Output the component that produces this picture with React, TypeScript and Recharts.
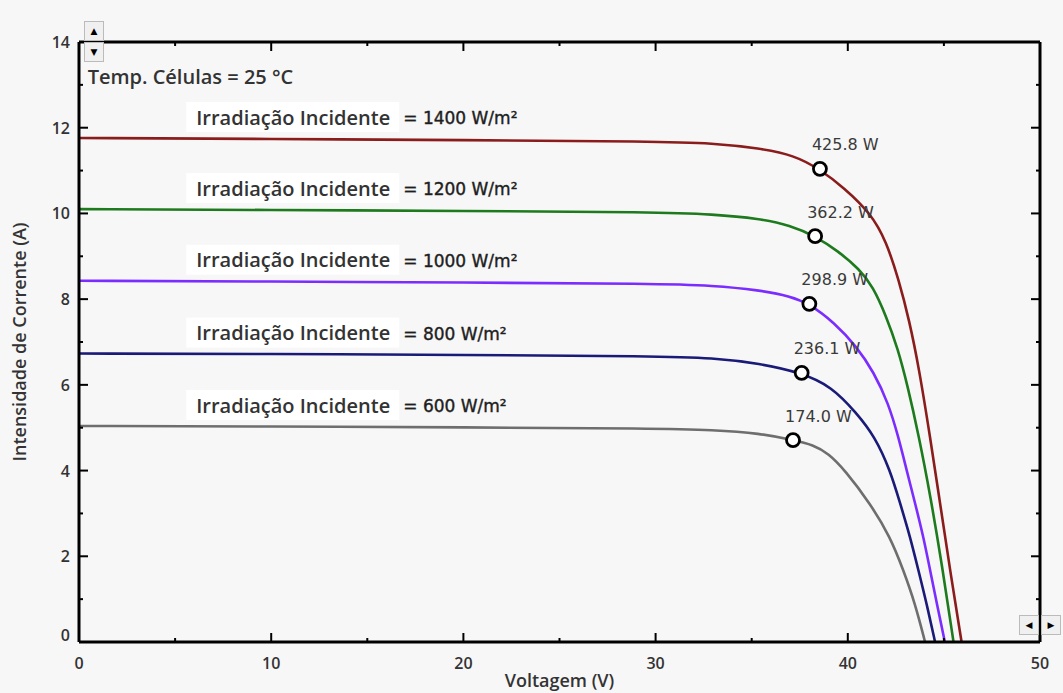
import { ComposedChart, Line, Scatter, XAxis, YAxis, Label } from 'recharts';

// I-V curves (voltage in V, current in A)
const v1400 = [0, 10, 20, 30, 33, 35.4, 37.2, 38.55, 39.8, 41.2, 42.0, 42.65, 43.2, 43.7, 44.28, 44.8, 45.32, 45.92];
const i1400 = [11.76, 11.74, 11.71, 11.68, 11.64, 11.52, 11.36, 11.03, 10.6, 10.0, 9.35, 8.45, 7.5, 6.4, 4.79, 3.24, 1.68, 0];

const v1200 = [0, 10, 20, 30, 33, 35.4, 37, 38.3, 39.5, 40.6, 41.3, 42.0, 42.6, 43.1, 43.7, 44.3, 44.9, 45.5];
const i1200 = [10.1, 10.08, 10.06, 10.03, 9.98, 9.88, 9.72, 9.47, 9.12, 8.7, 8.3, 7.6, 6.85, 6.0, 4.8, 3.4, 1.8, 0];

const v1000 = [0, 10, 20, 30, 33, 35.4, 37, 38.0, 39.3, 40.46, 41.35, 42.11, 42.63, 43.06, 43.5, 43.93, 44.28, 44.63, 45.05];
const i1000 = [8.43, 8.41, 8.39, 8.36, 8.32, 8.21, 8.07, 7.89, 7.45, 6.89, 6.3, 5.57, 4.79, 4.01, 3.24, 2.46, 1.68, 0.9, 0];

const v800 = [0, 10, 20, 30, 33, 35.4, 37.6, 39.16, 40.46, 41.41, 42.2, 42.72, 43.24, 43.67, 44.1, 44.54];
const i800 = [6.73, 6.72, 6.7, 6.67, 6.63, 6.5, 6.28, 5.96, 5.34, 4.79, 4.01, 3.24, 2.46, 1.68, 0.9, 0];

const v600 = [0, 10, 20, 30, 33, 35.43, 37.17, 38.2, 38.99, 39.85, 41.15, 42.2, 42.89, 43.5, 44.02];
const i600 = [5.04, 5.03, 5.01, 4.98, 4.95, 4.87, 4.71, 4.6, 4.4, 4.01, 3.24, 2.46, 1.68, 0.9, 0];

// maximum power points
const irradiances = [1400, 1200, 1000, 800, 600];
const mppVoltage = [38.55, 38.3, 38.0, 37.6, 37.15];
const mppCurrent = [11.04, 9.47, 7.89, 6.28, 4.71];
const mppPower = ['425.8 W', '362.2 W', '298.9 W', '236.1 W', '174.0 W'];

const xTicks = [0, 5, 10, 15, 20, 25, 30, 35, 40, 45, 50];
const yTicks = [0, 1, 2, 3, 4, 5, 6, 7, 8, 9, 10, 11, 12, 13, 14];

const colors = ['#8b1c1c', '#1d7a1d', '#7b2cff', '#1a1a78', '#6e6e6e'];
const LABEL_V = 6.1;
const TEMP_ANCHOR = [{ v: 0.45, i: 13.2 }];

const zip = (vs: number[], is: number[]) => vs.map((v, k) => ({ v, i: is[k] }));
const curves = [zip(v1400, i1400), zip(v1200, i1200), zip(v1000, i1000), zip(v800, i800), zip(v600, i600)];

const mppData = mppVoltage.map((v, k) => ({ v, i: mppCurrent[k], text: mppPower[k] }));
const irrData = irradiances.map((irr, k) => ({ v: LABEL_V, i: curves[k][0].i, irr }));

const TXT = '#333';
const SEMI = "'Open Sans', sans-serif";

const BottomTick = (p: any) => {
  const major = p.payload.value % 10 === 0;
  return (
    <g>
      <line x1={p.x} y1={p.y} x2={p.x} y2={p.y - (major ? 9 : 4)} stroke='#000' strokeWidth={2} />
      {major && (
        <text x={p.x} y={p.y + 21} textAnchor='middle' dominantBaseline='central' fontFamily={SEMI} fontWeight={600} fontSize={16} fill={TXT}>
          {p.payload.value}
        </text>
      )}
    </g>
  );
};

const TopTick = (p: any) => {
  const major = p.payload.value % 10 === 0;
  return <line x1={p.x} y1={p.y} x2={p.x} y2={p.y + (major ? 9 : 4)} stroke='#000' strokeWidth={2} />;
};

const LeftTick = (p: any) => {
  const major = p.payload.value % 2 === 0;
  return (
    <g>
      <line x1={p.x} y1={p.y} x2={p.x + (major ? 9 : 4)} y2={p.y} stroke='#000' strokeWidth={2} />
      {major && (
        <text x={p.x - 9} y={p.payload.value === 0 ? p.y - 7 : p.y} textAnchor='end' dominantBaseline='central' fontFamily={SEMI} fontWeight={600} fontSize={16} fill={TXT}>
          {p.payload.value}
        </text>
      )}
    </g>
  );
};

const RightTick = (p: any) => {
  const major = p.payload.value % 2 === 0;
  return <line x1={p.x} y1={p.y} x2={p.x - (major ? 9 : 4)} y2={p.y} stroke='#000' strokeWidth={2} />;
};

const MppMarker = (p: any) => (
  <g>
    <text x={p.cx - 8} y={p.cy - 24} dominantBaseline='central' fontFamily="'DejaVu Sans', sans-serif" fontSize={16} fill='#3a3a3a'>
      {p.payload.text}
    </text>
    <circle cx={p.cx} cy={p.cy} r={6.5} fill='#fff' stroke='#000' strokeWidth={2.8} />
  </g>
);

const IrrLabel = (p: any) => {
  const ty = p.cy - 21;
  return (
    <g>
      <rect x={p.cx - 10} y={ty - 15} width={213} height={30} fill='#fff' />
      <text x={p.cx} y={ty} dominantBaseline='central' fontFamily={SEMI} fontWeight={600} fontSize={20} fill={TXT}>
        Irradiação Incidente
      </text>
      <text
        x={p.cx + 207}
        y={ty + 1}
        dominantBaseline='central'
        fontFamily="'DejaVu Sans', sans-serif"
        fontSize={17}
        fill='#1e1e1e'
        stroke='#1e1e1e'
        strokeWidth={0.4}
      >
        {'= ' + p.payload.irr + ' W/m²'}
      </text>
    </g>
  );
};

const TempLabel = (p: any) => (
  <text x={p.cx} y={p.cy} dominantBaseline='central' fontFamily={SEMI} fontWeight={600} fontSize={20} fill={TXT}>
    Temp. Células = 25 °C
  </text>
);

const btn = (extra: any) => ({
  position: 'absolute' as const,
  width: 18,
  height: 18,
  background: '#f0f0f0',
  border: '1px solid #bbb',
  fontSize: 9,
  lineHeight: '18px',
  textAlign: 'center' as const,
  color: '#000',
  fontFamily: 'DejaVu Sans',
  ...extra,
});

export default function App() {
  return (
    <div style={{ position: 'absolute', left: 0, top: 0, width: 1063, height: 693, background: '#f7f7f7' }}>
      <ComposedChart width={1063} height={693} margin={{ top: 0, right: 0, bottom: 0, left: 0 }}>
        <XAxis
          xAxisId={0}
          type='number'
          dataKey='v'
          domain={[0, 50]}
          ticks={xTicks}
          interval={0}
          allowDataOverflow
          height={51}
          tickSize={0}
          tickMargin={0}
          tickLine={false}
          tick={<BottomTick />}
          axisLine={{ stroke: '#000', strokeWidth: 3 }}
        >
          <Label value='Voltagem (V)' position='insideBottom' offset={6} style={{ fontFamily: SEMI, fontWeight: 600, fontSize: 18, fill: TXT }} />
        </XAxis>
        <XAxis
          xAxisId='top'
          orientation='top'
          type='number'
          dataKey='v'
          domain={[0, 50]}
          ticks={xTicks}
          interval={0}
          allowDataOverflow
          height={42}
          tickSize={0}
          tickMargin={0}
          tickLine={false}
          tick={<TopTick />}
          axisLine={{ stroke: '#000', strokeWidth: 3 }}
        />
        <YAxis
          yAxisId={0}
          type='number'
          dataKey='i'
          domain={[0, 14]}
          ticks={yTicks}
          interval={0}
          allowDataOverflow
          width={79}
          tickSize={0}
          tickMargin={0}
          tickLine={false}
          tick={<LeftTick />}
          axisLine={{ stroke: '#000', strokeWidth: 3 }}
        >
          <Label
            value='Intensidade de Corrente (A)'
            angle={-90}
            position='insideLeft'
            offset={20}
            style={{ textAnchor: 'middle', fontFamily: SEMI, fontWeight: 600, fontSize: 18, fill: TXT }}
          />
        </YAxis>
        <YAxis
          yAxisId='right'
          orientation='right'
          type='number'
          domain={[0, 14]}
          ticks={yTicks}
          interval={0}
          allowDataOverflow
          width={23}
          tickSize={0}
          tickMargin={0}
          tickLine={false}
          tick={<RightTick />}
          axisLine={{ stroke: '#000', strokeWidth: 3 }}
        />

        <Scatter data={irrData} dataKey='i' shape={<IrrLabel />} isAnimationActive={false} />
        <Scatter data={TEMP_ANCHOR} dataKey='i' shape={<TempLabel />} isAnimationActive={false} />

        {curves.map((data, k) => (
          <Line
            key={irradiances[k]}
            data={data}
            dataKey='i'
            type='basis'
            stroke={colors[k]}
            strokeWidth={2.6}
            dot={false}
            activeDot={false}
            isAnimationActive={false}
          />
        ))}

        <Scatter data={mppData} dataKey='i' shape={<MppMarker />} isAnimationActive={false} />
      </ComposedChart>

      <div style={btn({ left: 84, top: 21 })}>▲</div>
      <div style={btn({ left: 84, top: 42 })}>▼</div>
      <div style={btn({ left: 1019, top: 615 })}>◀</div>
      <div style={btn({ left: 1041, top: 615 })}>▶</div>
    </div>
  );
}
